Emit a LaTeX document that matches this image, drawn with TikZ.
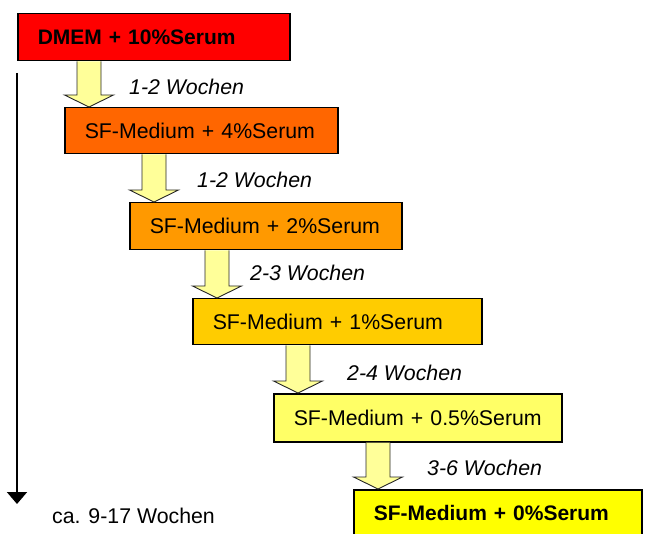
\documentclass[tikz,border=0pt]{standalone}
\usepackage{fontspec}
\setmainfont{Liberation Sans}
\usetikzlibrary{calc,arrows.meta}
\definecolor{c1}{HTML}{FF0000}
\definecolor{c2}{HTML}{FF6600}
\definecolor{c3}{HTML}{FF9900}
\definecolor{c4}{HTML}{FFCC00}
\definecolor{c5}{HTML}{FFFF66}
\definecolor{c6}{HTML}{FFFF00}
\definecolor{arrowfill}{HTML}{FFFF99}
\tikzset{
  stagebox/.style={draw=black, line width=1.5pt, anchor=north west, inner xsep=20pt,
    inner ysep=0pt, align=left, font=\fontsize{21.3}{25}\selectfont},
  durlabel/.style={anchor=west, inner sep=0pt, font=\fontsize{21.3}{25}\selectfont\itshape},
  blockarrow/.style={draw=black!85, line width=0.9pt, fill=arrowfill, line join=miter},
}
\newcommand{\blockarrow}[2]{%
  \coordinate (tip#1) at ($(#2.north west)+(25,0)$);
  \draw[blockarrow] ($(tip#1|-#1.south)+(-12,0)$) -- ($(tip#1)+(-12,-12)$) -- ($(tip#1)+(-24.5,-12)$)
     -- (tip#1) -- ($(tip#1)+(24.5,-12)$) -- ($(tip#1)+(12,-12)$) -- ($(tip#1|-#1.south)+(12,0)$);
}
\begin{document}
\begin{tikzpicture}[x=1pt,y=-1pt]
\useasboundingbox (0,0) rectangle (645,534);
\node[stagebox, fill=c1, text width=232pt, minimum height=47pt, font=\fontsize{21}{25}\selectfont\bfseries] (b1) at (17,13) {DMEM + 10\%Serum};
\node[stagebox, fill=c2, text width=233pt, minimum height=46pt] (b2) at (64,107) {SF-Medium + 4\%Serum};
\node[stagebox, fill=c3, text width=232pt, minimum height=47pt] (b3) at (129,202) {SF-Medium + 2\%Serum};
\node[stagebox, fill=c4, text width=249pt, minimum height=46pt] (b4) at (192,298) {SF-Medium + 1\%Serum};
\node[stagebox, fill=c5, text width=248pt, minimum height=48pt] (b5) at (273,393) {SF-Medium + 0.5\%Serum};
\node[stagebox, fill=c6, text width=248pt, minimum height=47pt, font=\fontsize{21}{25}\selectfont\bfseries] (b6) at (353,489) {SF-Medium + 0\%Serum};

\blockarrow{b1}{b2}
\blockarrow{b2}{b3}
\blockarrow{b3}{b4}
\blockarrow{b4}{b5}
\blockarrow{b5}{b6}

\node[durlabel] (l1) at (129,87) {1-2 Wochen};
\node[durlabel] (l2) at (197,180) {1-2 Wochen};
\node[durlabel] (l3) at (250,273) {2-3 Wochen};
\node[durlabel] (l4) at (347,373) {2-4 Wochen};
\node[durlabel] (l5) at (427,468) {3-6 Wochen};

\coordinate (ltop) at (17,73);
\coordinate (lend) at (17,504);
\draw[line width=2pt, -{Triangle[width=20pt,length=12pt]}] (ltop) -- (lend);
\node[anchor=west, inner sep=0pt, font=\fontsize{21.3}{25}\selectfont] (total) at (52,516) {ca. 9-17 Wochen};
\end{tikzpicture}
\end{document}
